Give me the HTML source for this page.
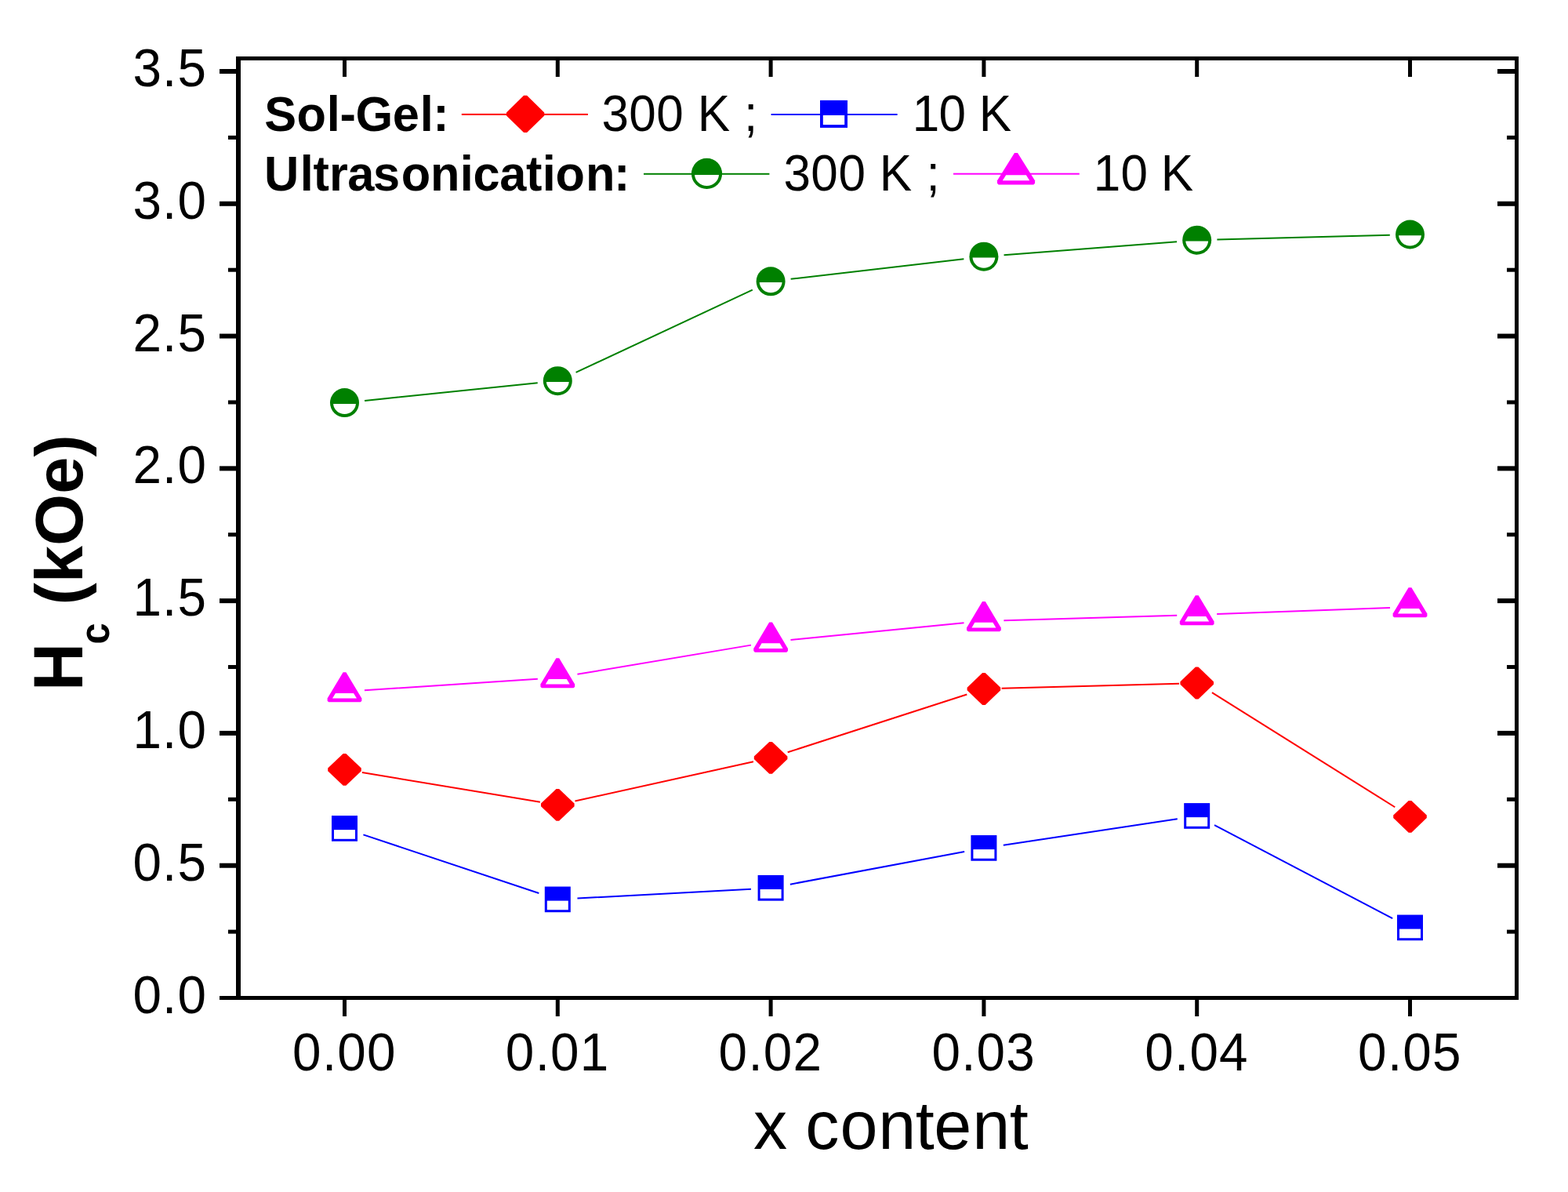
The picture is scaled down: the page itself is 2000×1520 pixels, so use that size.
<!DOCTYPE html>
<html><head><meta charset="utf-8"><title>Hc vs x content</title>
<style>html,body{margin:0;padding:0;background:#fff;overflow:hidden;width:2000px;height:1520px;}svg{display:block;}</style>
</head><body>
<svg width="2000" height="1520" viewBox="0 0 2000 1520">
<rect width="2000" height="1520" fill="#fff"/>
<rect x="301" y="72" width="6" height="1203" fill="#000"/>
<rect x="1932" y="72" width="5" height="1203" fill="#000"/>
<rect x="301" y="72" width="1636" height="5" fill="#000"/>
<rect x="280" y="1270" width="1657" height="5" fill="#000"/>
<rect x="280" y="88.00" width="21" height="6" fill="#000"/>
<rect x="1910" y="88.00" width="22" height="6" fill="#000"/>
<rect x="291" y="172.89" width="10" height="5" fill="#000"/>
<rect x="1922" y="172.89" width="10" height="5" fill="#000"/>
<rect x="280" y="256.78" width="21" height="6" fill="#000"/>
<rect x="1910" y="256.78" width="22" height="6" fill="#000"/>
<rect x="291" y="341.68" width="10" height="5" fill="#000"/>
<rect x="1922" y="341.68" width="10" height="5" fill="#000"/>
<rect x="280" y="425.57" width="21" height="6" fill="#000"/>
<rect x="1910" y="425.57" width="22" height="6" fill="#000"/>
<rect x="291" y="510.46" width="10" height="5" fill="#000"/>
<rect x="1922" y="510.46" width="10" height="5" fill="#000"/>
<rect x="280" y="594.36" width="21" height="6" fill="#000"/>
<rect x="1910" y="594.36" width="22" height="6" fill="#000"/>
<rect x="291" y="679.25" width="10" height="5" fill="#000"/>
<rect x="1922" y="679.25" width="10" height="5" fill="#000"/>
<rect x="280" y="763.14" width="21" height="6" fill="#000"/>
<rect x="1910" y="763.14" width="22" height="6" fill="#000"/>
<rect x="291" y="848.03" width="10" height="5" fill="#000"/>
<rect x="1922" y="848.03" width="10" height="5" fill="#000"/>
<rect x="280" y="931.93" width="21" height="6" fill="#000"/>
<rect x="1910" y="931.93" width="22" height="6" fill="#000"/>
<rect x="291" y="1016.82" width="10" height="5" fill="#000"/>
<rect x="1922" y="1016.82" width="10" height="5" fill="#000"/>
<rect x="280" y="1100.71" width="21" height="6" fill="#000"/>
<rect x="1910" y="1100.71" width="22" height="6" fill="#000"/>
<rect x="291" y="1185.61" width="10" height="5" fill="#000"/>
<rect x="1922" y="1185.61" width="10" height="5" fill="#000"/>
<rect x="437.00" y="1275" width="5" height="21" fill="#000"/>
<rect x="437.00" y="77" width="5" height="21" fill="#000"/>
<rect x="708.80" y="1275" width="5" height="21" fill="#000"/>
<rect x="708.80" y="77" width="5" height="21" fill="#000"/>
<rect x="980.60" y="1275" width="5" height="21" fill="#000"/>
<rect x="980.60" y="77" width="5" height="21" fill="#000"/>
<rect x="1252.40" y="1275" width="5" height="21" fill="#000"/>
<rect x="1252.40" y="77" width="5" height="21" fill="#000"/>
<rect x="1524.20" y="1275" width="5" height="21" fill="#000"/>
<rect x="1524.20" y="77" width="5" height="21" fill="#000"/>
<rect x="1796.00" y="1275" width="5" height="21" fill="#000"/>
<rect x="1796.00" y="77" width="5" height="21" fill="#000"/>
<g font-family='"Liberation Sans", sans-serif' fill="#000">
<text transform="translate(0,110.00) scale(1,1.042)" x="169.5 207.0 226.4" y="0" font-size="65.6">3.5</text>
<text transform="translate(0,278.78) scale(1,1.042)" x="169.5 207.0 226.4" y="0" font-size="65.6">3.0</text>
<text transform="translate(0,447.57) scale(1,1.042)" x="169.5 207.0 226.4" y="0" font-size="65.6">2.5</text>
<text transform="translate(0,616.36) scale(1,1.042)" x="169.5 207.0 226.4" y="0" font-size="65.6">2.0</text>
<text transform="translate(0,785.14) scale(1,1.042)" x="169.5 207.0 226.4" y="0" font-size="65.6">1.5</text>
<text transform="translate(0,953.93) scale(1,1.042)" x="169.5 207.0 226.4" y="0" font-size="65.6">1.0</text>
<text transform="translate(0,1122.71) scale(1,1.042)" x="169.5 207.0 226.4" y="0" font-size="65.6">0.5</text>
<text transform="translate(0,1291.50) scale(1,1.042)" x="169.5 207.0 226.4" y="0" font-size="65.6">0.0</text>
<text transform="translate(0,1365) scale(1,1.042)" x="373.00 410.90 430.20 467.90" y="0" font-size="65.6">0.00</text>
<text transform="translate(0,1365) scale(1,1.042)" x="644.80 682.70 702.00 739.70" y="0" font-size="65.6">0.01</text>
<text transform="translate(0,1365) scale(1,1.042)" x="916.60 954.50 973.80 1011.50" y="0" font-size="65.6">0.02</text>
<text transform="translate(0,1365) scale(1,1.042)" x="1188.40 1226.30 1245.60 1283.30" y="0" font-size="65.6">0.03</text>
<text transform="translate(0,1365) scale(1,1.042)" x="1460.20 1498.10 1517.40 1555.10" y="0" font-size="65.6">0.04</text>
<text transform="translate(0,1365) scale(1,1.042)" x="1732.00 1769.90 1789.20 1826.90" y="0" font-size="65.6">0.05</text>
</g>
<text transform="translate(0,1465) scale(1,1.0)" x="961.03 1004.18 1027.33 1071.38 1120.27 1167.69 1191.33 1240.27 1287.69" y="0" font-size="86.3" font-family='"Liberation Sans", sans-serif' fill="#000">x content</text>
<g font-family='"Liberation Sans", sans-serif' font-weight="bold" fill="#000">
<text transform="translate(105,881) rotate(-90) scale(0.98,1.035)" font-size="86">H</text>
<text transform="translate(139,821.6) rotate(-90) scale(0.92,1)" font-size="53">c</text>
<text transform="translate(105,771.5) rotate(-90)" font-size="85">(kOe)</text>
</g>
<path d="M465.07,510.98L685.73,488.32M734.59,474.83L959.81,369.67M1008.63,355.83L1229.37,330.17M1280.52,325.22L1501.08,308.18M1552.39,305.52L1772.81,299.68" stroke="#008000" stroke-width="2.0" fill="none"/>
<path d="M464.94,880.31L685.86,865.69M736.45,859.78L957.95,822.62M1008.48,815.93L1229.52,794.37M1280.39,791.16L1501.21,784.74M1552.18,783.06L1773.02,774.94" stroke="#ff00ff" stroke-width="2.0" fill="none"/>
<path d="M461.90,985.11L688.90,1022.69M733.46,1021.50L960.94,971.20M1004.70,959.32L1233.30,885.48M1277.59,877.87L1504.01,871.63M1545.94,883.05L1779.26,1029.25" stroke="#ff0000" stroke-width="2.0" fill="none"/>
<path d="M463.41,1064.41L687.39,1138.94M736.46,1145.55L957.94,1133.65M1007.87,1127.66L1230.13,1086.04M1279.82,1077.65L1501.78,1044.20M1549.02,1052.15L1776.18,1171.20" stroke="#0000ff" stroke-width="2.0" fill="none"/>
<circle cx="439.50" cy="513.60" r="18.5" fill="#008000"/><path d="M425.06,514.90L453.94,514.90A14.5,14.5 0 0 1 425.06,514.90Z" fill="#fff"/>
<circle cx="711.30" cy="485.70" r="18.5" fill="#008000"/><path d="M696.86,487.00L725.74,487.00A14.5,14.5 0 0 1 696.86,487.00Z" fill="#fff"/>
<circle cx="983.10" cy="358.80" r="18.5" fill="#008000"/><path d="M968.66,360.10L997.54,360.10A14.5,14.5 0 0 1 968.66,360.10Z" fill="#fff"/>
<circle cx="1254.90" cy="327.20" r="18.5" fill="#008000"/><path d="M1240.46,328.50L1269.34,328.50A14.5,14.5 0 0 1 1240.46,328.50Z" fill="#fff"/>
<circle cx="1526.70" cy="306.20" r="18.5" fill="#008000"/><path d="M1512.26,307.50L1541.14,307.50A14.5,14.5 0 0 1 1512.26,307.50Z" fill="#fff"/>
<circle cx="1798.50" cy="299.00" r="18.5" fill="#008000"/><path d="M1784.06,300.30L1812.94,300.30A14.5,14.5 0 0 1 1784.06,300.30Z" fill="#fff"/>
<polygon points="437.60,857.20 441.40,857.20 461.38,890.50 461.38,893.70 459.78,895.30 419.22,895.30 417.62,893.70 417.62,890.50" fill="#ff00ff"/><polygon points="427.98,883.90 451.02,883.90 454.98,890.50 424.02,890.50" fill="#fff"/>
<polygon points="709.40,839.20 713.20,839.20 733.18,872.50 733.18,875.70 731.58,877.30 691.02,877.30 689.42,875.70 689.42,872.50" fill="#ff00ff"/><polygon points="699.78,865.90 722.82,865.90 726.78,872.50 695.82,872.50" fill="#fff"/>
<polygon points="981.20,793.60 985.00,793.60 1004.98,826.90 1004.98,830.10 1003.38,831.70 962.82,831.70 961.22,830.10 961.22,826.90" fill="#ff00ff"/><polygon points="971.58,820.30 994.62,820.30 998.58,826.90 967.62,826.90" fill="#fff"/>
<polygon points="1253.00,767.10 1256.80,767.10 1276.78,800.40 1276.78,803.60 1275.18,805.20 1234.62,805.20 1233.02,803.60 1233.02,800.40" fill="#ff00ff"/><polygon points="1243.38,793.80 1266.42,793.80 1270.38,800.40 1239.42,800.40" fill="#fff"/>
<polygon points="1524.80,759.20 1528.60,759.20 1548.58,792.50 1548.58,795.70 1546.98,797.30 1506.42,797.30 1504.82,795.70 1504.82,792.50" fill="#ff00ff"/><polygon points="1515.18,785.90 1538.22,785.90 1542.18,792.50 1511.22,792.50" fill="#fff"/>
<polygon points="1796.60,749.20 1800.40,749.20 1820.38,782.50 1820.38,785.70 1818.78,787.30 1778.22,787.30 1776.62,785.70 1776.62,782.50" fill="#ff00ff"/><polygon points="1786.98,775.90 1810.02,775.90 1813.98,782.50 1783.02,782.50" fill="#fff"/>
<polygon points="418.20,979.60 437.70,961.00 441.30,961.00 460.80,979.60 460.80,983.20 441.30,1001.80 437.70,1001.80 418.20,983.20" fill="#ff0000"/>
<polygon points="690.00,1024.60 709.50,1006.00 713.10,1006.00 732.60,1024.60 732.60,1028.20 713.10,1046.80 709.50,1046.80 690.00,1028.20" fill="#ff0000"/>
<polygon points="961.80,964.50 981.30,945.90 984.90,945.90 1004.40,964.50 1004.40,968.10 984.90,986.70 981.30,986.70 961.80,968.10" fill="#ff0000"/>
<polygon points="1233.60,876.70 1253.10,858.10 1256.70,858.10 1276.20,876.70 1276.20,880.30 1256.70,898.90 1253.10,898.90 1233.60,880.30" fill="#ff0000"/>
<polygon points="1505.40,869.20 1524.90,850.60 1528.50,850.60 1548.00,869.20 1548.00,872.80 1528.50,891.40 1524.90,891.40 1505.40,872.80" fill="#ff0000"/>
<polygon points="1777.20,1039.50 1796.70,1020.90 1800.30,1020.90 1819.80,1039.50 1819.80,1043.10 1800.30,1061.70 1796.70,1061.70 1777.20,1043.10" fill="#ff0000"/>
<rect x="423.00" y="1040.10" width="33" height="32.7" fill="#0000ff"/><rect x="426.00" y="1058.15" width="27.0" height="11.65" fill="#fff"/>
<rect x="694.80" y="1130.55" width="33" height="32.7" fill="#0000ff"/><rect x="697.80" y="1148.60" width="27.0" height="11.65" fill="#fff"/>
<rect x="966.60" y="1115.95" width="33" height="32.7" fill="#0000ff"/><rect x="969.60" y="1134.00" width="27.0" height="11.65" fill="#fff"/>
<rect x="1238.40" y="1065.05" width="33" height="32.7" fill="#0000ff"/><rect x="1241.40" y="1083.10" width="27.0" height="11.65" fill="#fff"/>
<rect x="1510.20" y="1024.10" width="33" height="32.7" fill="#0000ff"/><rect x="1513.20" y="1042.15" width="27.0" height="11.65" fill="#fff"/>
<rect x="1782.00" y="1166.55" width="33" height="32.7" fill="#0000ff"/><rect x="1785.00" y="1184.60" width="27.0" height="11.65" fill="#fff"/>
<g font-family='"Liberation Sans", sans-serif' fill="#000">
<text transform="translate(0,167.1) scale(1,1.03)" x="337.23 378.61 416.72 433.61 453.49 500.71 535.72 552.20" y="0" font-size="61.3" font-weight="bold">Sol-Gel:</text>
<text transform="translate(0,243.1) scale(1,1.03)" x="337.12 382.72 399.45 419.96 443.20 476.04 511.81 548.96 586.72 603.41 637.20 671.05 691.72 708.61 746.96 783.10" y="0" font-size="61.3" font-weight="bold">Ultrasonication:</text>
<text transform="translate(0,166.9) scale(1,1.05)" x="767.54 802.18 837.38 871.86 889.71 931.07 949.13" y="0" font-size="62">300 K ;</text>
<text transform="translate(0,166.9) scale(1,1.05)" x="1163.67 1197.58 1232.06 1248.81" y="0" font-size="62">10 K</text>
<text transform="translate(0,242.85) scale(1,1.05)" x="999.44 1034.38 1069.38 1103.86 1121.71 1163.07 1181.43" y="0" font-size="62">300 K ;</text>
<text transform="translate(0,242.85) scale(1,1.05)" x="1394.72 1429.58 1464.06 1480.81" y="0" font-size="62">10 K</text>
</g>
<rect x="588.8" y="144.9" width="161.1" height="2" fill="#ff0000"/>
<polygon points="645.95,143.40 668.10,121.75 672.10,121.75 694.25,143.40 694.25,147.40 672.10,169.05 668.10,169.05 645.95,147.40" fill="#ff0000"/>
<rect x="983.6" y="145" width="161" height="2" fill="#0000ff"/>
<rect x="1046.00" y="127.90" width="35" height="35" fill="#0000ff"/><rect x="1049.80" y="147.00" width="27.4" height="12.10" fill="#fff"/>
<rect x="821" y="220.8" width="160.4" height="2" fill="#008000"/>
<circle cx="901.50" cy="221.40" r="19.6" fill="#008000"/><path d="M885.97,222.90L917.03,222.90A15.600000000000001,15.600000000000001 0 0 1 885.97,222.90Z" fill="#fff"/>
<rect x="1216" y="220.7" width="160.8" height="2" fill="#ff00ff"/>
<polygon points="1293.98,194.89 1298.02,194.89 1320.01,230.35 1320.01,233.76 1318.31,235.46 1273.69,235.46 1271.99,233.76 1271.99,230.35" fill="#ff00ff"/><polygon points="1283.16,223.32 1308.84,223.32 1313.20,230.35 1278.80,230.35" fill="#fff"/>
</svg>
</body></html>
